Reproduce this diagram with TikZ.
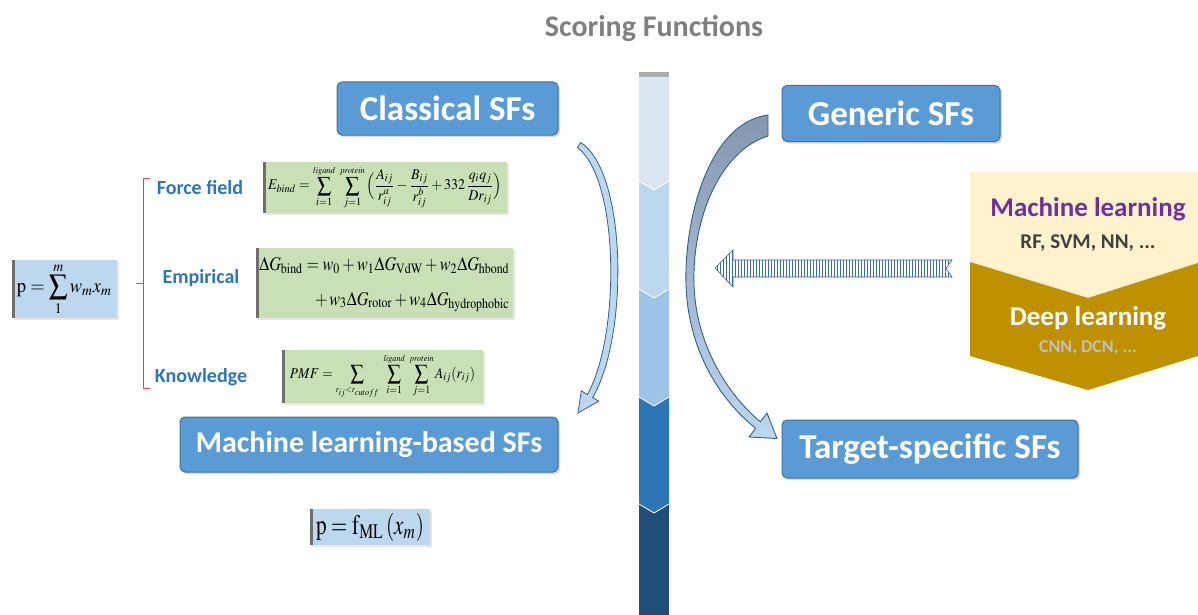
\documentclass[tikz,border=0pt]{standalone}
\usepackage{mathptmx}
\usepackage[no-math]{fontspec}
\setmainfont{Carlito}
\usepackage{graphicx}
\usetikzlibrary{patterns.meta,shadows}
\definecolor{sfblue}{HTML}{5B9BD5}
\definecolor{sfedge}{HTML}{41719C}
\definecolor{labblue}{HTML}{2E75B6}
\definecolor{eqgreen}{HTML}{C9E0B6}
\definecolor{pblue}{HTML}{BDD7EE}
\definecolor{stripgray}{HTML}{6E6E6E}
\definecolor{segA}{HTML}{DCE6F2}
\definecolor{segB}{HTML}{BDD7EE}
\definecolor{segC}{HTML}{9DC3E6}
\definecolor{segD}{HTML}{2E75B6}
\definecolor{segE}{HTML}{1F4E79}
\definecolor{mlyellow}{HTML}{FFF2CC}
\definecolor{dlgold}{HTML}{BF9000}
\definecolor{mlpurple}{HTML}{7030A0}
\definecolor{arrline}{HTML}{2F5F8F}
\definecolor{arrtop}{HTML}{8497B0}
\definecolor{arrbot}{HTML}{BDD7EE}
\definecolor{brred}{HTML}{E04848}
\definecolor{titlegray}{HTML}{7F7F7F}
\definecolor{stripeblue}{HTML}{3A6EA5}
\tikzset{
  sfbox/.style={draw=sfedge, line width=1pt, fill=sfblue, rounded corners=5pt,
    text=white, font=\fontsize{35}{40}\selectfont\bfseries, inner sep=0pt,
    drop shadow={shadow xshift=2pt, shadow yshift=-2pt, opacity=0.3}},
  eqbox/.style={fill=eqgreen, inner sep=0pt,
    path picture={\fill[stripgray] (path picture bounding box.north west) rectangle ([xshift=3pt]path picture bounding box.south west);},
    drop shadow={shadow xshift=1.5pt, shadow yshift=-1.5pt, opacity=0.2}},
  pbox/.style={eqbox, fill=pblue},
  lab/.style={text=labblue, font=\fontsize{20}{24}\selectfont\bfseries},
  curvearrow/.style={draw=arrline, line width=0.9pt, top color=arrtop, bottom color=arrbot},
}
\begin{document}
\begin{tikzpicture}[x=1pt,y=-1pt]
\useasboundingbox (0,0) rectangle (1198,615);

% title
\node[text=titlegray, font=\fontsize{30}{34}\selectfont\bfseries] (title) at (654,28) {Scoring Functions};

% central column
\fill[gray!65] (639,72) rectangle (669,77);
\fill[segE] (639,504) rectangle (669,615);
\fill[segD] (639,397) -- (669,397) -- (669,504) -- (654,513) -- (639,504) -- cycle;
\fill[segC] (639,289) -- (669,289) -- (669,397) -- (654,406) -- (639,397) -- cycle;
\fill[segB] (639,181) -- (669,181) -- (669,289) -- (654,298) -- (639,289) -- cycle;
\fill[segA] (639,77) -- (669,77) -- (669,181) -- (654,190) -- (639,181) -- cycle;
\foreach \s/\t in {181/190, 289/298, 397/406, 504/513}
  \draw[white, line width=0.8pt] (639,\s) -- (654,\t) -- (669,\s);

% SF boxes
\node[sfbox, minimum width=221pt, minimum height=53pt] (classical) at (447.5,108.5) {Classical SFs};
\node[sfbox, minimum width=218pt, minimum height=56pt] (generic) at (891,113.5) {Generic SFs};
\node[sfbox, minimum width=378pt, minimum height=55pt, font=\fontsize{30}{34}\selectfont\bfseries] (mlbased) at (369,444.5) {Machine learning-based SFs};
\node[sfbox, minimum width=296pt, minimum height=58pt] (target) at (930,449) {Target-specific SFs};

% bracket and labels
\draw[brred, line width=1pt] (150,178) -- (143,178) -- (143,388) -- (150,388);
\draw[brred, line width=1pt] (143,283) -- (136,283);
\node[lab] (forcefield) at (200,188) {Force field};
\node[lab] (empirical) at (201,278) {Empirical};
\node[lab] (knowledge) at (201,377) {Knowledge};

% equation boxes
\node[eqbox, minimum width=244pt, minimum height=51pt] (eqff) at (385,187.5)
  {\resizebox*{234pt}{43pt}{$\displaystyle E_{bind}=\sum_{i=1}^{\scriptscriptstyle ligand}\ \sum_{j=1}^{\scriptscriptstyle protein}\Big(\frac{A_{ij}}{r_{ij}^{a}}-\frac{B_{ij}}{r_{ij}^{b}}+332\,\frac{q_iq_j}{Dr_{ij}}\Big)$}};
\node[eqbox, minimum width=257pt, minimum height=70pt] (eqemp) at (384.5,283)
  {\resizebox*{250pt}{58pt}{$\begin{array}{@{}r@{}}
    \Delta G_{\mathrm{bind}}=w_0+w_1\Delta G_{\mathrm{VdW}}+w_2\Delta G_{\mathrm{hbond}}\\[6pt]
    +\,w_3\Delta G_{\mathrm{rotor}}+w_4\Delta G_{\mathrm{hydrophobic}}
  \end{array}$}};
\node[eqbox, minimum width=201pt, minimum height=53pt] (eqkn) at (382.5,376.5)
  {\resizebox*{185pt}{45pt}{$\displaystyle PMF=\sum_{\scriptscriptstyle r_{ij}<r_{cutoff}}\ \sum_{i=1}^{\scriptscriptstyle ligand}\ \sum_{j=1}^{\scriptscriptstyle protein}A_{ij}(r_{ij})$}};
\node[pbox, minimum width=105pt, minimum height=58pt] (plin) at (64.5,289)
  {\resizebox*{95pt}{52pt}{$\displaystyle \mathrm{p}=\sum_{1}^{m}w_m x_m$}};
\node[pbox, minimum width=120pt, minimum height=36pt] (pml) at (370,527)
  {\resizebox*{108pt}{28pt}{$\mathrm{p}=\mathrm{f}_{\mathrm{ML}}\,(x_m)$}};

% left curved arrow (Classical -> ML-based)
\path[draw=arrline, line width=0.8pt, fill=pblue]
  (580.7,142.5) .. controls (627,172) and (629,336) .. (592.6,397.5)
  -- (598.7,401.2) -- (578,413) -- (581.3,390.8) -- (587.4,394.5)
  .. controls (621,334) and (619,178) .. (577.3,147.5) -- cycle;

% right curved arrow (Generic -> Target-specific)
\path[curvearrow]
  (768,115) .. controls (708,123) and (684,220) .. (686,285)
  .. controls (688,350) and (720,400) .. (755.6,428.2)
  -- (749,437) -- (777,438.5) -- (767,413) -- (760.4,421.8)
  .. controls (728,395) and (696,345) .. (694,285)
  .. controls (692,215) and (722,150) .. (768,136) -- cycle;

% ML / DL panel
\fill[mlyellow] (970,172) -- (1198,172) -- (1198,263) -- (1088,298) -- (970,262) -- cycle;
\fill[dlgold] (970,262) -- (1088,298) -- (1198,263) -- (1198,356) -- (1088,390) -- (970,356) -- cycle;
\node[text=mlpurple, font=\fontsize{27}{31}\selectfont\bfseries] (ml) at (1088,209) {Machine learning};
\node[text=black!75, font=\fontsize{21}{24}\selectfont\bfseries] (mlex) at (1088,243) {RF, SVM, NN, ...};
\node[text=white, font=\fontsize{27}{31}\selectfont\bfseries] (dl) at (1088,318) {Deep learning};
\node[text=black!25, font=\fontsize{18}{21}\selectfont\bfseries] (dlex) at (1088,348) {CNN, DCN, ...};

% striped arrow (ML panel -> generic arrow)
\path[fill=segA, pattern={Lines[angle=90,distance=3pt,line width=1pt]}, pattern color=stripeblue]
  (715,268) -- (733,250) -- (733,260) -- (952,260) -- (946,268.5) -- (952,277) -- (733,277) -- (733,287) -- cycle;
\draw[arrline, line width=0.6pt]
  (715,268) -- (733,250) -- (733,260) -- (952,260) -- (946,268.5) -- (952,277) -- (733,277) -- (733,287) -- cycle;
\end{tikzpicture}
\end{document}
